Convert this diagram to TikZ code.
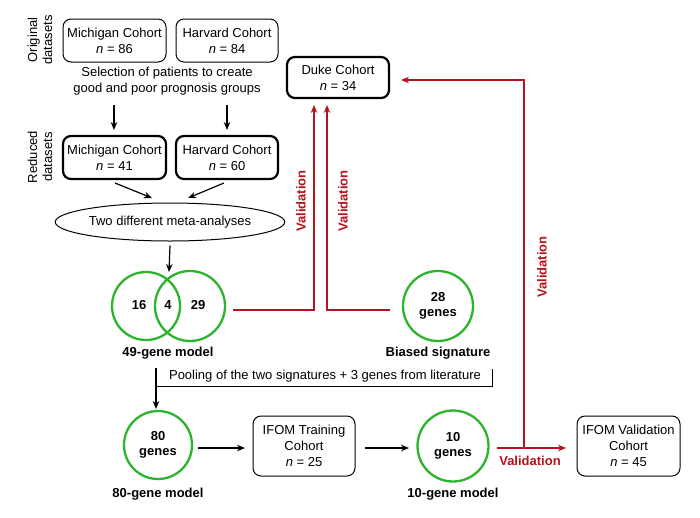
\documentclass[tikz,border=0pt]{standalone}
\usepackage{fontspec}
\setmainfont{Liberation Sans}
\usetikzlibrary{shapes.geometric,arrows.meta,calc}
\definecolor{gr}{RGB}{45,180,45}
\definecolor{rd}{RGB}{180,18,28}
\tikzset{
  thinbox/.style={draw,rounded corners=8pt,line width=1pt,align=center,font=\fontsize{13}{16}\selectfont,inner sep=0pt},
  thickbox/.style={thinbox,line width=2.2pt},
  gcirc/.style={circle,draw=gr,line width=2.3pt,inner sep=0pt,align=center,font=\fontsize{13}{15}\selectfont\bfseries},
  lbl/.style={font=\fontsize{13}{15}\selectfont,align=center,inner sep=0pt},
  blbl/.style={font=\fontsize{13}{15}\selectfont\bfseries,align=center,inner sep=0pt},
  rlbl/.style={font=\fontsize{13}{15}\selectfont\bfseries,text=rd,inner sep=0pt},
  arr/.style={line width=1.2pt,-{Stealth[length=8pt,width=6.5pt]}},
  rarr/.style={draw=rd,line width=1.2pt,-{Stealth[length=8pt,width=6.5pt]},color=rd},
  rline/.style={draw=rd,line width=1.2pt},
}
\begin{document}
\begin{tikzpicture}[x=1pt,y=-1pt]
\useasboundingbox (0,0) rectangle (700,517);
% side labels
\node[lbl,rotate=90] (orig) at (40,40) {Original\\datasets};
\node[lbl,rotate=90] (red) at (40,157) {Reduced\\datasets};
% original
\node[thinbox,minimum width=103,minimum height=43] (mo) at (114.5,40.5) {Michigan Cohort\\\textit{n} = 86};
\node[thinbox,minimum width=102,minimum height=43] (ho) at (227,40.5) {Harvard Cohort\\\textit{n} = 84};
\node[lbl,font=\fontsize{13}{16}\selectfont] (sel) at (167,81) {Selection of patients to create\\good and poor prognosis groups};
% reduced
\node[thickbox,minimum width=103,minimum height=43] (mr) at (114.5,157.5) {Michigan Cohort\\\textit{n} = 41};
\node[thickbox,minimum width=102,minimum height=43] (hr) at (227,157.5) {Harvard Cohort\\\textit{n} = 60};
\draw[arr] (114,105) -- (114,130);
\draw[arr] (227,105) -- (227,130);
% ellipse
\node[ellipse,draw,line width=1pt,minimum width=206,minimum height=38,inner sep=0pt,font=\fontsize{13}{15}\selectfont] (ell) at (170,222) {Two different meta-analyses};
\coordinate (m1) at (115,183); \coordinate (m2) at (152,198);
\coordinate (h1) at (224,183); \coordinate (h2) at (188,198);
\draw[arr] (m1) -- (m2);
\draw[arr] (h1) -- (h2);
% venn
\node[gcirc,minimum size=68] (vl) at (146,306) {};
\node[gcirc,minimum size=70] (vr) at (190,306) {};
\node[blbl] (n16) at (139,305) {16};
\node[blbl] (n4) at (168,305) {4};
\node[blbl] (n29) at (198,305) {29};
\node[blbl] (m49) at (168,353) {49-gene model};
\draw[arr] (ell.south) ++(0,4) -- (169,272);
% biased
\node[gcirc,minimum size=70] (bs) at (438,306) {28\\genes};
\node[blbl] (bsl) at (438,353) {Biased signature};
% duke
\node[thickbox,minimum width=102,minimum height=41] (duke) at (338,77.5) {Duke Cohort\\\textit{n} = 34};
\draw[rarr] (233,310) -| (314,105);
\draw[rarr] (390,310) -| (327,105);
\node[rlbl,rotate=90] (v1) at (301,201) {Validation};
\node[rlbl,rotate=90] (v2) at (343,201) {Validation};
% pooling
\node[lbl] (pool) at (325,376) {Pooling of the two signatures + 3 genes from literature};
\draw[line width=1pt] (492,369) -- (492,386) -- (156,386);
% bottom row
\node[gcirc,minimum size=68] (c80) at (158,445) {80\\genes};
\node[blbl] (m80) at (158,494) {80-gene model};
\draw[arr] (156,368) -- (156,409);
\node[thinbox,minimum width=102,minimum height=60] (tr) at (304,446) {IFOM Training\\Cohort\\\textit{n} = 25};
\node[gcirc,minimum size=71] (c10) at (453,446) {10\\genes};
\node[blbl] (m10) at (453,494) {10-gene model};
\node[thinbox,minimum width=103,minimum height=60] (val) at (628.5,446) {IFOM Validation\\Cohort\\\textit{n} = 45};
\draw[arr] (198,448) -- (245,448);
\draw[arr] (365,448) -- (409,448);
\draw[rarr] (497,448) -- (566,448);
\node[rlbl] (v4) at (530,461) {Validation};
\draw[rarr] (524,448) -- (524,80) -- (401,80);
\node[rlbl,rotate=90] (v3) at (542,267) {Validation};
\end{tikzpicture}
\end{document}
